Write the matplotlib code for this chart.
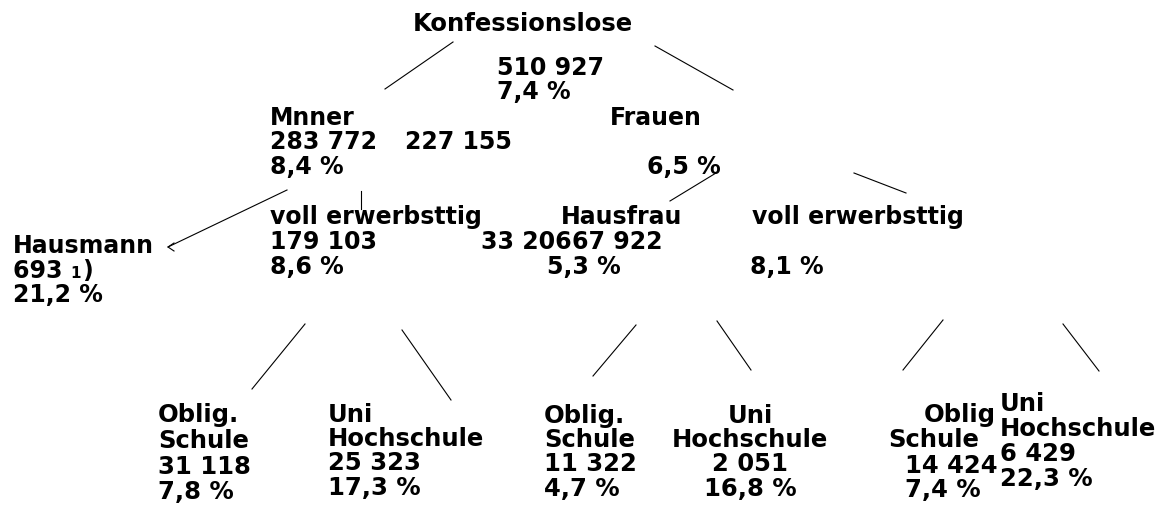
import matplotlib
matplotlib.use("Agg")
import matplotlib.pyplot as plt

# --- values ---
root_label = "Konfessionslose"
root_count = "510 927"
root_pct = "7,4 %"

sex_labels = ["Mnner", "Frauen"]
sex_counts = ["283 772", "227 155"]
sex_pcts = ["8,4 %", "6,5 %"]

men_labels = ["Hausmann", "voll erwerbsttig"]
men_counts = ["693", "179 103"]
men_pcts = ["21,2 %", "8,6 %"]
hausmann_note = "1"

women_labels = ["Hausfrau", "voll erwerbsttig"]
women_counts = ["33 206", "67 922"]
women_pcts = ["5,3 %", "8,1 %"]

edu_labels = [("Oblig.", "Schule"), ("Uni", "Hochschule"),
              ("Oblig.", "Schule"), ("Uni", "Hochschule"),
              ("Oblig", "Schule"), ("Uni", "Hochschule")]
edu_counts = ["31 118", "25 323", "11 322", "2 051", "14 424", "6 429"]
edu_pcts = ["7,8 %", "17,3 %", "4,7 %", "16,8 %", "7,4 %", "22,3 %"]

# --- layout (pixel coords, y downwards) ---
connectors = [((453, 42), (385, 89)), ((655, 46), (733, 90)),
              ((287, 190), (168, 247)), ((361, 191), (361, 209)),
              ((716, 173), (670, 201)), ((854, 173), (906, 193)),
              ((305, 324), (252, 389)), ((402, 330), (451, 400)),
              ((636, 325), (593, 376)), ((717, 321), (751, 370)),
              ((943, 320), (903, 370)), ((1063, 324), (1099, 371))]

# x of each of the 4 lines (label1, label2, count, pct), baselines, alignment
edu_x = [(158, 158, 158, 158), (328, 328, 328, 328),
         (544, 544, 544, 544), (750, 750, 750, 750),
         (996, 888, 905, 905), (1000, 1000, 1000, 1000)]
edu_ha = [("left",) * 4, ("left",) * 4, ("left",) * 4, ("center",) * 4,
          ("right", "left", "left", "left"), ("left",) * 4]
edu_y = [(422, 448, 474, 499), (422, 446, 470, 495),
         (423, 447, 471, 496), (423, 447, 471, 496),
         (422, 447, 473, 497), (411, 436, 461, 486)]

FS = 17
FS_EDU = 17.5
font = dict(family="DejaVu Sans", weight="bold", color="black", va="baseline")

fig = plt.figure(figsize=(11.64, 5.05), dpi=100)
ax = fig.add_axes([0, 0, 1, 1])
ax.set_xlim(0, 1164)
ax.set_ylim(505, 0)
ax.axis("off")

for (x0, y0), (x1, y1) in connectors:
    ax.plot([x0, x1], [y0, y1], color="black", lw=0.8)
# small arrow tip at Hausmann
ax.plot([174, 168, 174], [243, 247, 251], color="black", lw=0.8)

# root
ax.text(413, 31, root_label, fontsize=17.5, **font)
ax.text(497, 75, root_count, fontsize=FS, **font)
ax.text(497, 99, root_pct, fontsize=FS, **font)

# sex level
ax.text(270, 125, sex_labels[0], fontsize=FS, **font)
ax.text(270, 149, sex_counts[0], fontsize=FS, **font)
ax.text(270, 174, sex_pcts[0], fontsize=FS, **font)
ax.text(610, 125, sex_labels[1], fontsize=FS, **font)
ax.text(405, 149, sex_counts[1], fontsize=FS, **font)
ax.text(647, 174, sex_pcts[1], fontsize=FS, **font)

# men
ax.text(13, 253, men_labels[0], fontsize=FS, **font)
t = ax.text(13, 278, men_counts[0] + " ", fontsize=FS, **font)
ax.annotate(hausmann_note, xy=(1, 0), xycoords=t, ha="left", va="bottom",
            fontsize=11, family="DejaVu Sans", weight="bold",
            xytext=(0, 1.4), textcoords="offset points")
ax.annotate(")", xy=(1, 0), xycoords=t, ha="left", va="bottom",
            fontsize=FS, family="DejaVu Sans", weight="bold",
            xytext=(8, 0), textcoords="offset points")
ax.text(13, 302, men_pcts[0], fontsize=FS, **font)
ax.text(270, 224, men_labels[1], fontsize=FS, **font)
ax.text(270, 249, men_counts[1], fontsize=FS, **font)
ax.text(270, 274, men_pcts[1], fontsize=FS, **font)

# women
ax.text(561, 224, women_labels[0], fontsize=FS, **font)
t = ax.text(481, 249, women_counts[0], fontsize=FS, **font)
ax.annotate(women_counts[1], xy=(1, 0), xycoords=t, ha="left", va="bottom",
            fontsize=FS, family="DejaVu Sans", weight="bold")
ax.text(547, 274, women_pcts[0], fontsize=FS, **font)
ax.text(752, 224, women_labels[1], fontsize=FS, **font)
ax.text(750, 274, women_pcts[1], fontsize=FS, **font)

# education level
for i in range(len(edu_counts)):
    lines = [edu_labels[i][0], edu_labels[i][1], edu_counts[i], edu_pcts[i]]
    for s, x, y, ha in zip(lines, edu_x[i], edu_y[i], edu_ha[i]):
        ax.text(x, y, s, fontsize=FS_EDU, ha=ha, **font)

fig.savefig("out.png", dpi=100)
